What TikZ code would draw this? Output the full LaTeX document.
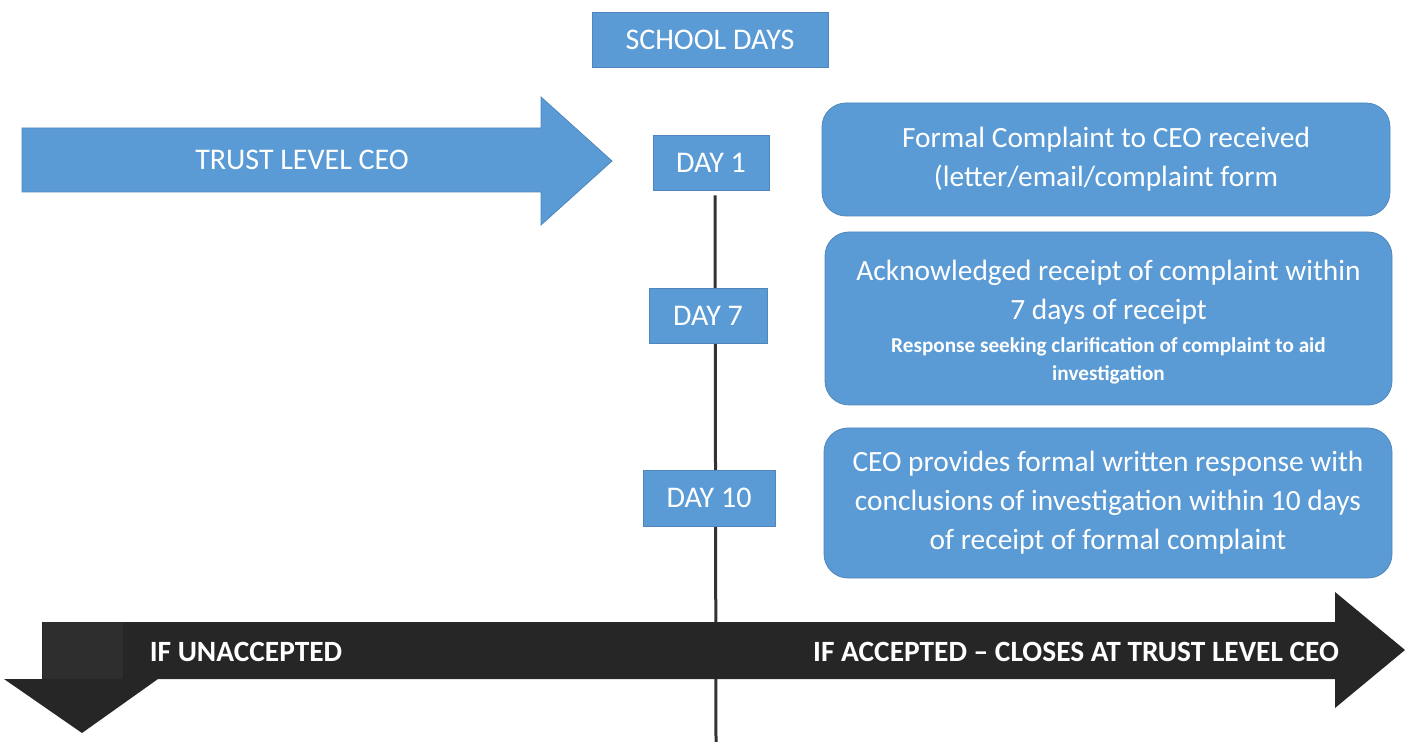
\documentclass[tikz,border=0pt]{standalone}
\usepackage{fontspec}
\setmainfont{Carlito}
\usetikzlibrary{backgrounds}

\definecolor{boxblue}{HTML}{5B9BD5}
\definecolor{boxedge}{HTML}{4F87BC}
\definecolor{bandblack}{HTML}{262626}
\definecolor{shaftgrey}{HTML}{2E2E2E}
\definecolor{linegrey}{HTML}{333333}

\newcommand{\smallline}{\bfseries\fontsize{10.6}{14}\selectfont}

\tikzset{
  daybox/.style={draw=boxedge,fill=boxblue,text=white,inner sep=0pt,
    font=\fontsize{15}{18}\selectfont},
  stepbox/.style={draw=boxedge,fill=boxblue,text=white,rounded corners=12pt,
    align=center,inner sep=0pt,font=\fontsize{14.7}{19.5}\selectfont},
  bandtext/.style={text=white,inner sep=0pt,font=\bfseries\fontsize{14.7}{17}\selectfont}
}

\begin{document}
\begin{tikzpicture}[x=0.5pt,y=-0.5pt]
			\useasboundingbox (0,0) rectangle (1423,742);

			% header and day markers
			\node[daybox,minimum width=118pt,minimum height=27.5pt] (school) at (710,39.5) {SCHOOL DAYS};
			\node[daybox,minimum width=58pt,minimum height=27.5pt] (day1) at (711,162.5) {DAY 1};
			\node[daybox,minimum width=59pt,minimum height=27.5pt] (day7) at (708,315.5) {DAY 7};
			\node[daybox,minimum width=66pt,minimum height=28pt] (day10) at (709,498) {DAY 10};

			% trust level arrow
			\draw[boxedge,fill=boxblue] (22,128) -- (541,128) -- (541,97) -- (612,161) -- (541,225) -- (541,192) -- (22,192) -- cycle;
			\node[text=white,font=\fontsize{15}{18}\selectfont] (trust) at (302,160) {TRUST LEVEL CEO};

			% steps
			\node[stepbox,minimum width=284pt,minimum height=56.5pt] (received) at (1106,159.5)
				{Formal Complaint to CEO received\\(letter/email/complaint form};
			\node[stepbox,minimum width=283.5pt,minimum height=86.5pt] (acknowledged) at (1108.5,318.5)
				{\\[-5.5pt]Acknowledged receipt of complaint within\\7 days of receipt\\[-3pt]
				\smallline Response seeking clarification of complaint to aid\\[-5.5pt]
				\smallline investigation};
			\node[stepbox,minimum width=284pt,minimum height=75pt] (response) at (1108,503)
				{CEO provides formal written response with\\conclusions of investigation within 10 days\\of receipt of formal complaint};

			% outcome band
			\fill[bandblack] (42,622) -- (1335,622) -- (1335,592) -- (1405,650) -- (1335,708) -- (1335,679)
				-- (158,679) -- (82,733) -- (4,679) -- (42,679) -- cycle;
			\fill[shaftgrey] (43,622) rectangle (123,679);
			\node[bandtext] (unaccepted) at (246,652) {IF UNACCEPTED};
			\node[bandtext] (accepted) at (1076,652) {IF ACCEPTED -- CLOSES AT TRUST LEVEL CEO};

			% time line
			\coordinate (lineend) at (716,742);
			\begin{pgfonlayer}{background}
				\draw[linegrey,line width=1.5pt] (day1.south -| lineend) ++(-1,5) -- (lineend);
			\end{pgfonlayer}
		\end{tikzpicture}
\end{document}
